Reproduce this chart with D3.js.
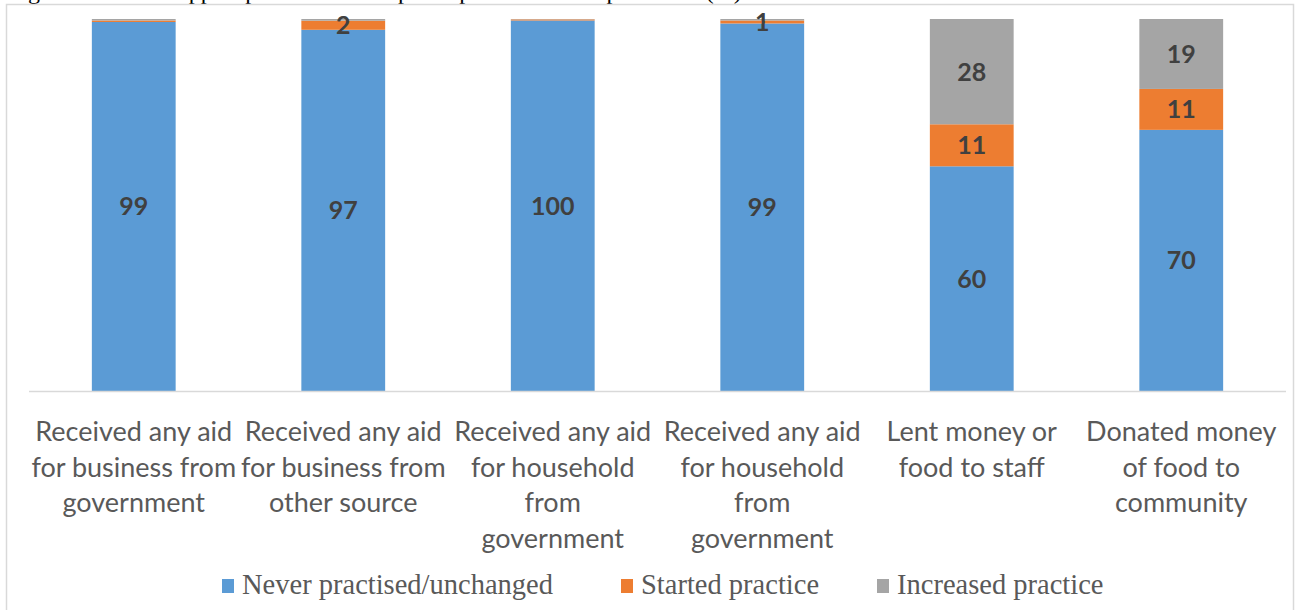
<!DOCTYPE html>
<html><head><meta charset="utf-8">
<script src="https://cdn.jsdelivr.net/npm/d3@7"></script>
<style>body{margin:0;background:#fff;}svg{display:block;}</style>
</head><body>
<svg id="c" width="1297" height="610"></svg>
<script>
const titleText = "Figure 7: Social support practices of the participants since the pandemic (%)";
const categories = [
  "Received any aid\nfor business from\ngovernment",
  "Received any aid\nfor business from\nother source",
  "Received any aid\nfor household\nfrom\ngovernment",
  "Received any aid\nfor household\nfrom\ngovernment",
  "Lent money or\nfood to staff",
  "Donated money\nof food to\ncommunity"
];
const seriesNames = ["Never practised/unchanged", "Started practice", "Increased practice"];
const neverPractised = [99.2, 97.1, 99.6, 98.8, 60.4, 70.2];
const startedPractice = [0.4, 2.45, 0.3, 0.8, 11.3, 11.0];
const increasedPractice = [0.4, 0.45, 0.1, 0.4, 28.3, 18.8];
const colors = ["#5B9BD5", "#ED7D31", "#A5A5A5"];
const yDomain = [0, 100];

const svg = d3.select("#c");

// title (cut at top)
svg.append("text").attr("x", 8).attr("y", -1)
  .attr("font-family", "Liberation Serif").attr("font-size", 24).attr("fill", "#000")
  .text(titleText);

// chart frame
svg.append("rect").attr("x", 6.5).attr("y", 4.5).attr("width", 1287).attr("height", 620)
  .attr("fill", "none").attr("stroke", "#d9d9d9").attr("stroke-width", 1.5);

const x = d3.scaleBand().domain(d3.range(categories.length)).range([29, 1286]).padding(0);
const y = d3.scaleLinear().domain(yDomain).range([391, 19]);
const barW = x.bandwidth() * 0.4;

const table = categories.map((c, i) => ({i, s0: neverPractised[i], s1: startedPractice[i], s2: increasedPractice[i]}));
const stack = d3.stack().keys(["s0", "s1", "s2"])(table);

const g = svg.append("g");
stack.forEach((layer, k) => {
  g.selectAll(null).data(layer).enter().append("rect")
    .attr("x", d => x(d.data.i) + (x.bandwidth() - barW) / 2)
    .attr("width", barW)
    .attr("y", d => y(d[1]))
    .attr("height", d => y(d[0]) - y(d[1]))
    .attr("fill", colors[k]);
});

// baseline
svg.append("line").attr("x1", 29).attr("x2", 1286).attr("y1", 391.5).attr("y2", 391.5)
  .attr("stroke", "#d9d9d9").attr("stroke-width", 1.5);

// data labels
stack.forEach((layer, k) => {
  g.selectAll(null).data(layer.filter(d => Math.round(d[1] - d[0]) >= 1)).enter().append("text")
    .attr("x", d => x(d.data.i) + x.bandwidth() / 2)
    .attr("y", d => (y(d[0]) + y(d[1])) / 2)
    .attr("dy", "0.36em")
    .attr("text-anchor", "middle")
    .attr("font-family", "Lato").attr("font-weight", "bold").attr("font-size", 25)
    .attr("fill", "#404040")
    .text(d => Math.round(d[1] - d[0]));
});

// x axis labels
const xa = svg.append("g");
categories.forEach((c, i) => {
  const t = xa.append("text")
    .attr("text-anchor", "middle")
    .attr("font-family", "Lato").attr("font-size", 27).attr("fill", "#595959");
  c.split("\n").forEach((line, j) => {
    t.append("tspan").attr("x", x(i) + x.bandwidth() / 2).attr("y", 441 + j * 35.5).text(line);
  });
});

// legend
const legendItems = [
  {name: seriesNames[0], color: colors[0], x: 222},
  {name: seriesNames[1], color: colors[1], x: 621},
  {name: seriesNames[2], color: colors[2], x: 877}
];
const lg = svg.append("g");
legendItems.forEach(d => {
  lg.append("rect").attr("x", d.x).attr("y", 579).attr("width", 12).attr("height", 14).attr("fill", d.color);
  lg.append("text").attr("x", d.x + 20).attr("y", 594)
    .attr("font-family", "Liberation Serif").attr("font-size", 28.5).attr("fill", "#595959")
    .text(d.name);
});
</script>
</body></html>
